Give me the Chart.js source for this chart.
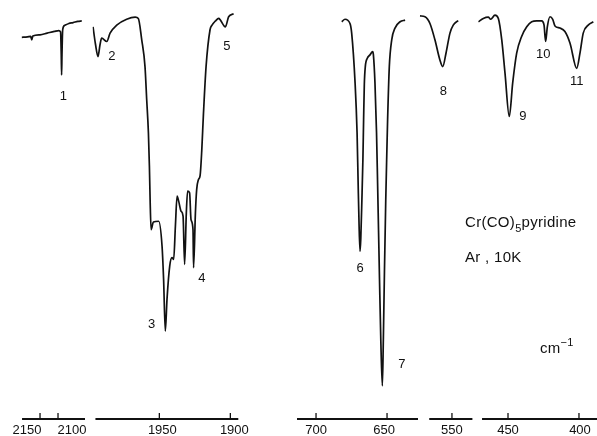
<!DOCTYPE html>
<html>
<head>
<meta charset="utf-8">
<script src="https://cdn.jsdelivr.net/npm/chart.js@4.4.1/dist/chart.umd.min.js"></script>
<style>
  body { margin: 0; background: #fff; }
  #wrap { position: relative; width: 597px; height: 436px; font-family: "Liberation Sans", Arial, sans-serif; color: #111; }
  #wrap canvas { position: absolute; left: 0; top: 0; }
  .note { position: absolute; font-size: 15px; letter-spacing: 0.3px; white-space: nowrap; line-height: 16px; }
  .note sub { font-size: 11px; vertical-align: -5px; line-height: 0; }
  .note sup { font-size: 11px; vertical-align: 7px; line-height: 0; }
</style>
</head>
<body>
<div id="wrap">
  <canvas id="c1" width="597" height="436"></canvas>
  <canvas id="c2" width="597" height="436"></canvas>
  <canvas id="c3" width="597" height="436"></canvas>
  <canvas id="c4" width="597" height="436"></canvas>
  <canvas id="c5" width="597" height="436"></canvas>
  <div class="note" style="left:465px; top:214px;">Cr(CO)<sub>5</sub>pyridine</div>
  <div class="note" style="left:465px; top:249px;">Ar , 10K</div>
  <div class="note" style="left:540px; top:340px;">cm<sup>&minus;1</sup></div>
</div>
<script>
// widmo IR: liczba falowa (cm-1) i transmitancja (%)

// panel 1: 2200-2025
const p1Wn = [2201, 2185, 2176, 2173, 2170, 2150, 2130, 2110, 2098, 2093, 2091, 2090, 2089, 2087, 2082, 2070, 2058, 2045, 2034]
const p1T  = [91.1, 91.2, 91.3, 90.5, 91.4, 91.7, 92.1, 92.5, 92.7, 92.4, 86.9, 82.1, 86.9, 92.9, 93.9, 94.4, 94.6, 94.9, 95.0]

// panel 2: 1995-1895 (pasmo CO)
const p2Wn = [1996.7, 1995.0, 1993.2, 1991.8, 1990.6, 1987.0, 1984.7, 1980.0, 1973.0, 1967.0, 1964.8, 1962.4, 1960.1, 1958.9,
              1957.7, 1957.0, 1956.5, 1955.8, 1954.2, 1950.5, 1948.1, 1947.0, 1945.8, 1944.6, 1942.7, 1941.1, 1939.9, 1938.7,
              1937.5, 1936.4, 1934.7, 1933.3, 1932.2, 1931.0, 1930.1, 1928.7, 1927.7, 1926.3, 1925.9, 1924.6, 1923.7, 1922.5,
              1921.3, 1920.1, 1919.0, 1917.1, 1914.3, 1912.9, 1910.5, 1908.2, 1907.0, 1903.5, 1901.2, 1897.7]
const p2T  = [93.6, 89.5, 86.5, 89.3, 90.9, 90.1, 92.1, 94.0, 95.4, 95.9, 95.6, 90.5, 84.1, 76.2,
              68.3, 60.3, 52.4, 45.2, 47.0, 47.2, 41.3, 33.3, 21.0, 28.6, 36.5, 38.5, 38.1, 46.0,
              53.2, 52.0, 49.6, 48.4, 36.9, 49.2, 54.4, 54.0, 47.6, 45.2, 36.1, 49.2, 54.8, 57.1,
              58.1, 64.3, 72.4, 84.1, 92.9, 94.0, 95.0, 95.6, 95.2, 93.6, 96.0, 96.7]

// panel 3: 713-628
const p3Wn = [681.9, 679.6, 676.1, 674.9, 672.5, 671.1, 670.4, 669.7, 669.0, 668.5, 667.7, 667.0, 666.5, 666.0, 665.3,
              663.9, 662.0, 660.1, 659.6, 658.5, 657.4, 656.7, 656.0, 655.3, 654.4, 653.3, 652.6, 651.8, 650.9, 650.1,
              649.6, 648.4, 646.7, 644.4, 640.8, 637.3]
const p3T  = [94.8, 95.4, 94.4, 92.1, 80.2, 68.3, 57.1, 46.4, 40.0, 42.9, 52.4, 61.9, 71.4, 79.8, 84.1,
              86.1, 86.9, 87.7, 86.9, 80.2, 68.3, 57.1, 45.2, 33.3, 19.0, 7.9, 19.0, 35.7, 52.4, 64.3,
              71.4, 84.1, 90.5, 93.3, 94.8, 95.2]

// panel 4: 566-535
const p4Wn = [572.5, 569.0, 565.5, 562.0, 558.5, 556.5, 554.2, 551.4, 549.1, 545.6]
const p4T  = [96.2, 96.0, 94.4, 90.5, 85.7, 84.1, 87.3, 92.1, 94.0, 95.1]

// panel 5: 468-387
const p5Wn = [470.9, 467.4, 463.9, 462.2, 459.2, 456.8, 454.4, 452.1, 449.1, 446.7, 443.9, 440.4, 436.8, 433.3, 429.8,
              426.3, 424.6, 423.5, 422.3, 420.4, 418.5, 416.9, 413.4, 409.9, 406.3, 401.6, 399.3, 397.0, 393.5, 389.9]
const p5T  = [94.8, 95.6, 95.9, 95.4, 96.4, 95.6, 90.5, 82.5, 72.2, 80.2, 87.3, 91.3, 93.6, 94.8, 95.0,
              95.0, 94.0, 90.1, 93.6, 96.0, 95.4, 93.8, 93.3, 92.5, 89.7, 83.7, 87.3, 92.1, 94.0, 94.8]

// podziałki osi
const p1Ticks = [2150, 2100]
const p2Ticks = [1950, 1900]
const p3Ticks = [700, 650]
const p4Ticks = [550]
const p5Ticks = [450, 400]

// numery pasm: [tekst, liczba falowa, transmitancja]
const p1Labels = [["1", 2085.3, 77.0]]
const p2Labels = [["2", 1983.5, 86.5], ["3", 1955.4, 22.6], ["4", 1920.1, 33.6], ["5", 1902.5, 88.9]]
const p3Labels = [["6", 669.0, 35.9], ["7", 639.6, 13.1]]
const p4Labels = [["8", 556.1, 78.2]]
const p5Labels = [["9", 439.6, 72.2], ["10", 425.1, 86.9], ["11", 401.6, 80.5]]

// panele: zakres osi x, zakres narysowanego odcinka osi, położenie na stronie,
// shift = przesunięcie podpisów podziałki w px (w oryginale nie zawsze są pod kreską)
const panels = [
    { id: "c1", wn: p1Wn, t: p1T, ticks: p1Ticks, labels: p1Labels, max: 2201.5, min: 2025, axisFrom: 2200, axisTo: 2025, left: 21.5, right: 85, shift: [-13, 14] },
    { id: "c2", wn: p2Wn, t: p2T, ticks: p2Ticks, labels: p2Labels, max: 1997, min: 1894.4, axisFrom: 1995, axisTo: 1894.4, left: 92.6, right: 238.3, shift: [3, 4] },
    { id: "c3", wn: p3Wn, t: p3T, ticks: p3Ticks, labels: p3Labels, max: 713.4, min: 628.2, axisFrom: 713.4, axisTo: 628.2, left: 297, right: 418, shift: [0, -3] },
    { id: "c4", wn: p4Wn, t: p4T, ticks: p4Ticks, labels: p4Labels, max: 573, min: 535.6, axisFrom: 566, axisTo: 535.6, left: 419.3, right: 472.4, shift: [0] },
    { id: "c5", wn: p5Wn, t: p5T, ticks: p5Ticks, labels: p5Labels, max: 471, min: 387.3, axisFrom: 468.3, axisTo: 387.3, left: 478.2, right: 597, shift: [0, 1] }
]

const FONT = "13px 'Liberation Sans', Arial, sans-serif"

// rysuje odcinek osi, kreski podziałki w górę, podpisy podziałki i numery pasm
const segmentPlugin = {
    id: "segment",
    afterDraw(chart, args, opts) {
        const ctx = chart.ctx
        const sx = chart.scales.x
        const sy = chart.scales.y
        const y = chart.chartArea.bottom
        ctx.save()
        ctx.strokeStyle = "#111"
        ctx.lineWidth = 2
        ctx.beginPath()
        ctx.moveTo(sx.getPixelForValue(opts.axisFrom), y)
        ctx.lineTo(sx.getPixelForValue(opts.axisTo), y)
        ctx.stroke()

        ctx.fillStyle = "#111"
        ctx.font = FONT
        ctx.textAlign = "center"
        ctx.textBaseline = "middle"
        ctx.lineWidth = 1.3
        sx.ticks.forEach((t, i) => {
            const x = sx.getPixelForValue(t.value)
            ctx.beginPath()
            ctx.moveTo(x, y)
            ctx.lineTo(x, y - 6)
            ctx.stroke()
            ctx.fillText(String(t.value), x + (opts.shift[i] || 0), y + 11)
        })

        for (const [text, wn, t] of opts.labels) {
            ctx.fillText(text, sx.getPixelForValue(wn), sy.getPixelForValue(t))
        }
        ctx.restore()
    }
}

for (const p of panels) {
    const points = p.wn.map((w, i) => ({ x: w, y: p.t[i] }))
    new Chart(document.getElementById(p.id), {
        type: "line",
        data: {
            datasets: [{
                data: points,
                borderColor: "#111",
                borderWidth: 1.7,
                pointRadius: 0,
                cubicInterpolationMode: "monotone",
                fill: false
            }]
        },
        options: {
            responsive: false,
            animation: false,
            events: [],
            layout: { padding: { left: p.left, right: 597 - p.right, top: 0, bottom: 17 } },
            scales: {
                x: {
                    type: "linear",
                    reverse: true,
                    min: p.min,
                    max: p.max,
                    grid: { display: false, drawTicks: false },
                    border: { display: false },
                    ticks: { display: false },
                    afterBuildTicks: s => { s.ticks = p.ticks.map(v => ({ value: v })) }
                },
                y: { display: false, min: 0, max: 100 }
            },
            plugins: {
                legend: { display: false },
                tooltip: { enabled: false },
                segment: { axisFrom: p.axisFrom, axisTo: p.axisTo, labels: p.labels, shift: p.shift }
            }
        },
        plugins: [segmentPlugin]
    })
}
</script>
</body>
</html>
